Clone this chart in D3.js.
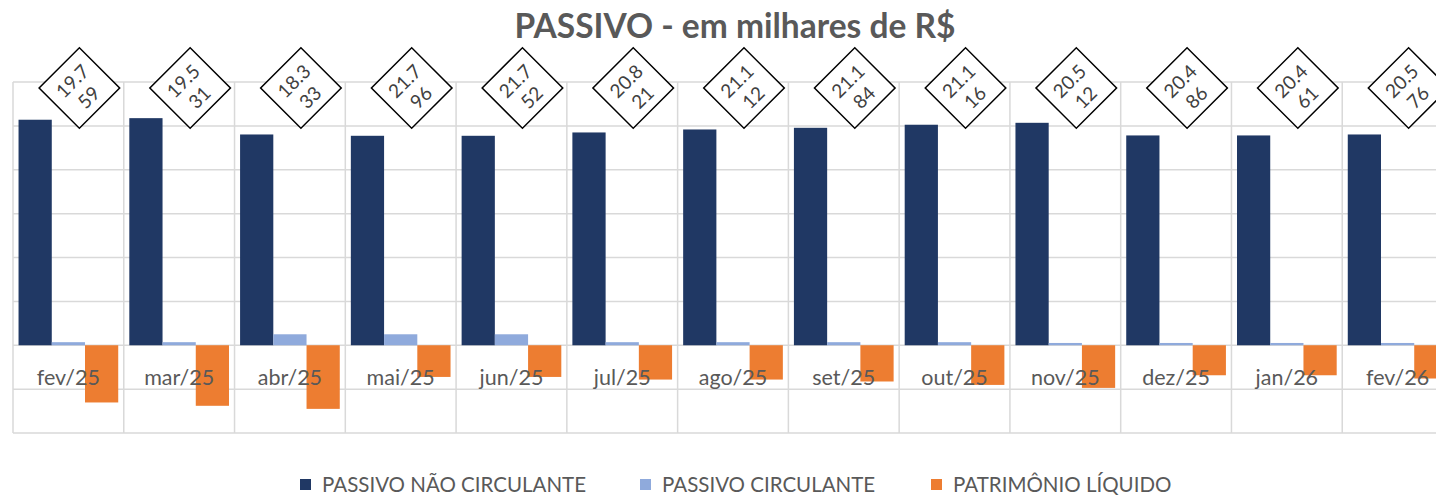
<!DOCTYPE html>
<html>
<head>
<meta charset="utf-8">
<script src="https://cdn.jsdelivr.net/npm/d3@7"></script>
<style>
	body { margin: 0; background: #fff; }
	svg { display: block; font-family: Lato, "Open Sans", sans-serif; }
	.grid line { stroke: #d9d9d9; stroke-width: 1.5px; }
	.cat-label { fill: #595959; font-size: 21.5px; text-anchor: middle; }
	.total-label text { fill: #404040; font-size: 19px; text-anchor: middle; }
	.legend text { fill: #595959; font-size: 20.5px; }
</style>
</head>
<body>
<svg id="chart" width="1436" height="496"></svg>
<script>

// valores em milhares de R$
const meses = ["fev/25", "mar/25", "abr/25", "mai/25", "jun/25", "jul/25", "ago/25",
	"set/25", "out/25", "nov/25", "dez/25", "jan/26", "fev/26"];

const passivoNaoCirculante = [25700, 25880, 24020, 23870, 23870, 24250, 24590,
	24780, 25130, 25350, 23910, 23910, 24020];

const passivoCirculante = [350, 350, 1250, 1250, 1250, 350, 350,
	350, 350, 260, 260, 260, 260];

const patrimonioLiquido = [-6520, -6900, -7250, -3610, -3610, -3910, -3910,
	-4130, -4520, -4860, -3420, -3420, -3790];

const totalPassivo = [19759, 19531, 18333, 21796, 21752, 20821, 21112,
	21184, 21116, 20512, 20486, 20461, 20576];

const yTicks = [-10000, -5000, 0, 5000, 10000, 15000, 20000, 25000, 30000];

const series = [
	{ key: "nc", name: "PASSIVO NÃO CIRCULANTE", values: passivoNaoCirculante, color: "#203864" },
	{ key: "c", name: "PASSIVO CIRCULANTE", values: passivoCirculante, color: "#8faadc" },
	{ key: "pl", name: "PATRIMÔNIO LÍQUIDO", values: patrimonioLiquido, color: "#ed7d31" }
];

const svg = d3.select("#chart");

// the plot area runs past the right edge, as in the original
const plot = { left: 13, right: 1453, top: 82, bottom: 433 };

const x0 = d3.scaleBand()
	.domain(meses)
	.range([plot.left, plot.right])
	.paddingInner(0.1)
	.paddingOuter(0.05);

const x1 = d3.scaleBand()
	.domain(series.map(s => s.key))
	.range([0, x0.bandwidth()]);

const y = d3.scaleLinear()
	.domain([yTicks[0], yTicks[yTicks.length - 1]])
	.range([plot.bottom, plot.top]);

// gridlines
const grid = svg.append("g").attr("class", "grid");

grid.selectAll("line.h")
	.data(yTicks)
	.enter().append("line")
		.attr("class", "h")
		.attr("x1", plot.left)
		.attr("x2", plot.right)
		.attr("y1", d => y(d))
		.attr("y2", d => y(d));

const step = x0.step();
grid.selectAll("line.v")
	.data(d3.range(meses.length + 1))
	.enter().append("line")
		.attr("class", "v")
		.attr("x1", i => plot.left + i * step)
		.attr("x2", i => plot.left + i * step)
		.attr("y1", plot.top)
		.attr("y2", plot.bottom);

// bars
const groups = svg.append("g").selectAll("g")
	.data(meses)
	.enter().append("g")
		.attr("transform", d => "translate(" + x0(d) + ",0)");

groups.selectAll("rect")
	.data((d, i) => series.map(s => ({ key: s.key, color: s.color, value: s.values[i] })))
	.enter().append("rect")
		.attr("x", d => x1(d.key))
		.attr("width", x1.bandwidth())
		.attr("y", d => y(Math.max(0, d.value)))
		.attr("height", d => Math.abs(y(d.value) - y(0)))
		.style("fill", d => d.color);

// category labels sit on top of the bars
svg.append("g").selectAll("text")
	.data(meses)
	.enter().append("text")
		.attr("class", "cat-label")
		.attr("x", d => x0(d) + x0.bandwidth() / 2)
		.attr("y", 385)
		.text(d => d);

// total labels in diamond callouts
const fmt = d3.formatLocale({ decimal: ",", thousands: ".", grouping: [3], currency: ["R$", ""] }).format(",d");
const side = 57;

const labels = svg.append("g").selectAll("g")
	.data(totalPassivo)
	.enter().append("g")
		.attr("class", "total-label")
		.attr("transform", (d, i) => "translate(" + (x0(meses[i]) + x0.bandwidth() / 2 + 11) + ",88) rotate(-45)");

labels.append("rect")
	.attr("x", -side / 2)
	.attr("y", -side / 2)
	.attr("width", side)
	.attr("height", side)
	.style("fill", "#fff")
	.style("stroke", "#000")
	.style("stroke-width", "1.5px");

labels.append("text")
	.attr("y", -3)
	.text(d => fmt(d).slice(0, 4));

labels.append("text")
	.attr("y", 20)
	.text(d => fmt(d).slice(4));

// title
svg.append("text")
	.attr("x", 735)
	.attr("y", 38)
	.attr("text-anchor", "middle")
	.style("font-size", "33.5px")
	.style("font-weight", "bold")
	.style("fill", "#595959")
	.text("PASSIVO - em milhares de R$");

// legend
const legendX = [300, 640, 931];
const legend = svg.append("g").attr("class", "legend").selectAll("g")
	.data(series)
	.enter().append("g")
		.attr("transform", (d, i) => "translate(" + legendX[i] + ",485)");

legend.append("rect")
	.attr("x", 0)
	.attr("y", -6)
	.attr("width", 11)
	.attr("height", 11)
	.style("fill", d => d.color);

legend.append("text")
	.attr("x", 22)
	.attr("y", 7)
	.text(d => d.name);

</script>
</body>
</html>
